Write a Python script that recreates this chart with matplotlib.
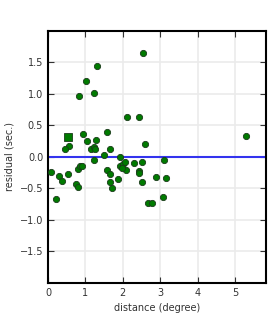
import numpy as np
import matplotlib
matplotlib.use("Agg")
import matplotlib.pyplot as plt

# residuals vs distance
dist = [2.55, 1.32, 1.02, 1.24, 0.84, 2.12, 2.44, 0.94, 1.59, 1.05,
        1.29, 2.60, 0.57, 0.46, 1.16, 1.24, 1.26, 1.67, 1.51, 1.93,
        1.24, 5.30, 3.11, 0.09, 0.30, 0.38, 0.54, 0.22, 0.76, 0.81,
        0.81, 0.86, 0.92, 1.59, 1.67, 1.67, 1.72, 1.88, 1.93, 2.01,
        2.07, 2.09, 1.99, 2.31, 2.52, 2.44, 2.44, 2.52, 2.90, 3.16,
        2.68, 2.79, 3.08]
resid = [1.65, 1.45, 1.20, 1.01, 0.97, 0.63, 0.63, 0.36, 0.39, 0.25,
         0.26, 0.20, 0.17, 0.12, 0.12, 0.15, 0.12, 0.12, 0.03, 0.00,
         -0.05, 0.33, -0.05, -0.24, -0.31, -0.38, -0.27, -0.67, -0.43, -0.48,
         -0.19, -0.15, -0.15, -0.21, -0.27, -0.40, -0.49, -0.35, -0.15, -0.12,
         -0.08, -0.21, -0.18, -0.10, -0.08, -0.23, -0.26, -0.40, -0.32, -0.34,
         -0.73, -0.73, -0.64]
# the single square-marked station
sq_dist = [0.54]
sq_resid = [0.31]

xticks = [0, 1, 2, 3, 4, 5]
yticks = [-1.5, -1.0, -0.5, 0.0, 0.5, 1.0, 1.5]

fig = plt.figure(figsize=(2.7, 3.15), dpi=100)
ax = fig.add_axes([0.178, 0.102, 0.807, 0.80])

ax.grid(True, color='#ebebeb', linewidth=1.2, zorder=0)
ax.axhline(0, color='#3333ee', linewidth=1.5, zorder=2)
ax.plot(dist, resid, 'o', color='#007a00', markeredgecolor='#1a3a1a',
        markeredgewidth=0.6, markersize=4.5, zorder=3)
ax.plot(sq_dist, sq_resid, 's', color='#007a00', markeredgecolor='#1a3a1a',
        markeredgewidth=0.6, markersize=5.5, zorder=3)

ax.set_xlim(0, max(dist) * 1.1)
ax.set_ylim(-2, 2)
ax.set_xticks(xticks)
ax.set_yticks(yticks)
ax.tick_params(direction='in', top=True, right=True, length=4, width=0.8,
               labelsize=7, labelcolor='#333333', color='#333333')
for s in ax.spines.values():
    s.set_linewidth(1.5)
    s.set_color('black')

ax.set_xlabel('distance (degree)', fontsize=7, color='#333333')
ax.set_ylabel('residual (sec.)', fontsize=7, color='#333333')

fig.savefig('out.png', dpi=100)
